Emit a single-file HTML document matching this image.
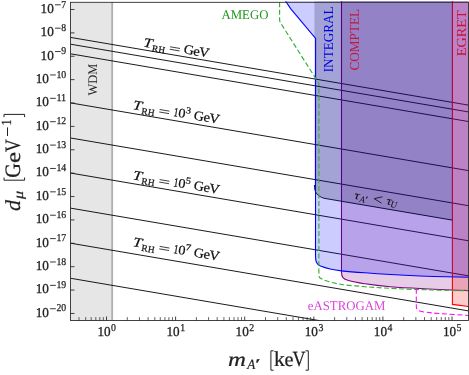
<!DOCTYPE html><html><head><meta charset="utf-8"><style>html,body{margin:0;padding:0;background:#fff}svg{display:block;will-change:transform}text{font-family:"Liberation Serif",serif;text-rendering:geometricPrecision}</style></head><body>
<svg width="469" height="375" viewBox="0 0 469 375">
<rect width="469" height="375" fill="#fff"/>
<defs><clipPath id="c"><rect x="70.5" y="1.2" width="398.5" height="319.3"/></clipPath></defs>
<g clip-path="url(#c)">
<rect x="70.5" y="2.3" width="42.5" height="318.2" fill="#808080" fill-opacity="0.2"/>
<line x1="112.2" y1="2.3" x2="112.2" y2="320.5" stroke="#808080" stroke-opacity="0.55" stroke-width="1.8"/>
<line x1="70.5" y1="37.40" x2="468.5" y2="105.14" stroke="#000" stroke-width="0.9"/>
<line x1="70.5" y1="44.20" x2="468.5" y2="111.94" stroke="#000" stroke-width="0.9"/>
<line x1="70.5" y1="53.80" x2="468.5" y2="121.54" stroke="#000" stroke-width="0.9"/>
<line x1="70.5" y1="102.90" x2="468.5" y2="170.64" stroke="#000" stroke-width="0.9"/>
<line x1="70.5" y1="137.97" x2="468.5" y2="205.71" stroke="#000" stroke-width="0.9"/>
<line x1="70.5" y1="173.04" x2="468.5" y2="240.78" stroke="#000" stroke-width="0.9"/>
<line x1="70.5" y1="208.11" x2="468.5" y2="275.85" stroke="#000" stroke-width="0.9"/>
<line x1="70.5" y1="243.18" x2="468.5" y2="310.92" stroke="#000" stroke-width="0.9"/>
<line x1="70.5" y1="278.25" x2="468.5" y2="345.99" stroke="#000" stroke-width="0.9"/>
<path d="M341.5 1.0 L341.5 272.3 C341.5 277 343 278.8 348.5 280.5 C354 282.1 358 282.7 365 283.8 C375 285.2 382 286 390 286.8 C400 287.6 410 288.1 420 288.5 C440 289.5 455 290.1 468.5 290.5 L468.5 1.0 Z" fill="#800080" fill-opacity="0.2"/>
<path d="M341.5 1.0 L341.5 272.3 C341.5 277 343 278.8 348.5 280.5 C354 282.1 358 282.7 365 283.8 C375 285.2 382 286 390 286.8 C400 287.6 410 288.1 420 288.5 C440 289.5 455 290.1 468.5 290.5" fill="none" stroke="#800080" stroke-width="1.1"/>
<path d="M452.4 1.0 L452.4 304.4 L468.5 306.5 L468.5 1.0 Z" fill="#f00" fill-opacity="0.2"/>
<path d="M452.4 1.0 L452.4 304.4 L468.5 306.5" fill="none" stroke="#f00" stroke-width="1.1"/>
<path d="M314.4 1.0 L314.4 185 C314.4 192.5 317 196 324 198.28 L452.4 220.13 L452.4 1.0 Z" fill="#000" fill-opacity="0.2"/>
<path d="M314.4 185 C314.4 192.5 317 196 324 198.28 L452.4 220.13" fill="none" stroke="#000" stroke-width="0.9"/>
<path d="M285.5 1.0 L290.6 8.6 L315.6 38.4 L315.5 255.5 C315.5 261.5 316.3 264 320.4 266.1 C326 268.3 334 270.1 341.5 270.9 C350 271.8 356 272.2 365 272.8 C385 274.3 400 275.1 420 276.0 C440 276.7 455 277.1 468.5 277.3 L468.5 1.0 Z" fill="#00f" fill-opacity="0.2"/>
<path d="M285.5 1.0 L290.6 8.6 L315.6 38.4 L315.5 255.5 C315.5 261.5 316.3 264 320.4 266.1 C326 268.3 334 270.1 341.5 270.9 C350 271.8 356 272.2 365 272.8 C385 274.3 400 275.1 420 276.0 C440 276.7 455 277.1 468.5 277.3" fill="none" stroke="#00f" stroke-width="1.1"/>
<path d="M279.6 2.3 L279.6 19.5 Q279.6 21.6 280.8 23.3 L318.9 83.5 L318.9 274.5 C318.9 277.5 319.5 278 321 278.6 C324 280.1 327 281.1 330.6 282.2 C335 283.4 339 284 343.4 284.7 C350 285.6 358 286 365 286.7 C375 287.4 382 287.9 390 288.3 C400 288.9 410 289.3 420 289.6 C440 290.2 455 290.6 468.5 290.9" fill="none" stroke="#34b034" stroke-width="1.15" stroke-dasharray="5 2.5"/>
<path d="M416.3 288.8 L416.3 306.3 C416.3 309.6 418 310.8 423 311.8 C430 312.8 436 313.3 442 313.8 C450 314.3 460 314.9 468.5 315.4" fill="none" stroke="#f0f" stroke-width="1.05" stroke-dasharray="5 2.7"/>
</g>
<rect x="70.5" y="2.3" width="398.0" height="318.2" fill="none" stroke="#222" stroke-width="0.85"/>
<line x1="70.5" y1="313.44" x2="74.5" y2="313.44" stroke="#222" stroke-width="0.85"/>
<text x="35.70" y="316.74" font-size="13.5" textLength="13.2" lengthAdjust="spacingAndGlyphs" fill="#222" stroke="#222" stroke-width="0.3">10</text>
<line x1="50.10" y1="308.74" x2="55.80" y2="308.74" stroke="#222" stroke-width="0.9"/>
<text x="56.40" y="311.44" font-size="10.5" textLength="9.80" lengthAdjust="spacingAndGlyphs" fill="#222" stroke="#222" stroke-width="0.25">20</text>
<line x1="70.5" y1="290.06" x2="74.5" y2="290.06" stroke="#222" stroke-width="0.85"/>
<text x="35.70" y="293.36" font-size="13.5" textLength="13.2" lengthAdjust="spacingAndGlyphs" fill="#222" stroke="#222" stroke-width="0.3">10</text>
<line x1="50.10" y1="285.36" x2="55.80" y2="285.36" stroke="#222" stroke-width="0.9"/>
<text x="56.40" y="288.06" font-size="10.5" textLength="9.80" lengthAdjust="spacingAndGlyphs" fill="#222" stroke="#222" stroke-width="0.25">19</text>
<line x1="70.5" y1="266.68" x2="74.5" y2="266.68" stroke="#222" stroke-width="0.85"/>
<text x="35.70" y="269.98" font-size="13.5" textLength="13.2" lengthAdjust="spacingAndGlyphs" fill="#222" stroke="#222" stroke-width="0.3">10</text>
<line x1="50.10" y1="261.98" x2="55.80" y2="261.98" stroke="#222" stroke-width="0.9"/>
<text x="56.40" y="264.68" font-size="10.5" textLength="9.80" lengthAdjust="spacingAndGlyphs" fill="#222" stroke="#222" stroke-width="0.25">18</text>
<line x1="70.5" y1="243.30" x2="74.5" y2="243.30" stroke="#222" stroke-width="0.85"/>
<text x="35.70" y="246.60" font-size="13.5" textLength="13.2" lengthAdjust="spacingAndGlyphs" fill="#222" stroke="#222" stroke-width="0.3">10</text>
<line x1="50.10" y1="238.60" x2="55.80" y2="238.60" stroke="#222" stroke-width="0.9"/>
<text x="56.40" y="241.30" font-size="10.5" textLength="9.80" lengthAdjust="spacingAndGlyphs" fill="#222" stroke="#222" stroke-width="0.25">17</text>
<line x1="70.5" y1="219.92" x2="74.5" y2="219.92" stroke="#222" stroke-width="0.85"/>
<text x="35.70" y="223.22" font-size="13.5" textLength="13.2" lengthAdjust="spacingAndGlyphs" fill="#222" stroke="#222" stroke-width="0.3">10</text>
<line x1="50.10" y1="215.22" x2="55.80" y2="215.22" stroke="#222" stroke-width="0.9"/>
<text x="56.40" y="217.92" font-size="10.5" textLength="9.80" lengthAdjust="spacingAndGlyphs" fill="#222" stroke="#222" stroke-width="0.25">16</text>
<line x1="70.5" y1="196.54" x2="74.5" y2="196.54" stroke="#222" stroke-width="0.85"/>
<text x="35.70" y="199.84" font-size="13.5" textLength="13.2" lengthAdjust="spacingAndGlyphs" fill="#222" stroke="#222" stroke-width="0.3">10</text>
<line x1="50.10" y1="191.84" x2="55.80" y2="191.84" stroke="#222" stroke-width="0.9"/>
<text x="56.40" y="194.54" font-size="10.5" textLength="9.80" lengthAdjust="spacingAndGlyphs" fill="#222" stroke="#222" stroke-width="0.25">15</text>
<line x1="70.5" y1="173.16" x2="74.5" y2="173.16" stroke="#222" stroke-width="0.85"/>
<text x="35.70" y="176.46" font-size="13.5" textLength="13.2" lengthAdjust="spacingAndGlyphs" fill="#222" stroke="#222" stroke-width="0.3">10</text>
<line x1="50.10" y1="168.46" x2="55.80" y2="168.46" stroke="#222" stroke-width="0.9"/>
<text x="56.40" y="171.16" font-size="10.5" textLength="9.80" lengthAdjust="spacingAndGlyphs" fill="#222" stroke="#222" stroke-width="0.25">14</text>
<line x1="70.5" y1="149.78" x2="74.5" y2="149.78" stroke="#222" stroke-width="0.85"/>
<text x="35.70" y="153.08" font-size="13.5" textLength="13.2" lengthAdjust="spacingAndGlyphs" fill="#222" stroke="#222" stroke-width="0.3">10</text>
<line x1="50.10" y1="145.08" x2="55.80" y2="145.08" stroke="#222" stroke-width="0.9"/>
<text x="56.40" y="147.78" font-size="10.5" textLength="9.80" lengthAdjust="spacingAndGlyphs" fill="#222" stroke="#222" stroke-width="0.25">13</text>
<line x1="70.5" y1="126.40" x2="74.5" y2="126.40" stroke="#222" stroke-width="0.85"/>
<text x="35.70" y="129.70" font-size="13.5" textLength="13.2" lengthAdjust="spacingAndGlyphs" fill="#222" stroke="#222" stroke-width="0.3">10</text>
<line x1="50.10" y1="121.70" x2="55.80" y2="121.70" stroke="#222" stroke-width="0.9"/>
<text x="56.40" y="124.40" font-size="10.5" textLength="9.80" lengthAdjust="spacingAndGlyphs" fill="#222" stroke="#222" stroke-width="0.25">12</text>
<line x1="70.5" y1="103.02" x2="74.5" y2="103.02" stroke="#222" stroke-width="0.85"/>
<text x="35.70" y="106.32" font-size="13.5" textLength="13.2" lengthAdjust="spacingAndGlyphs" fill="#222" stroke="#222" stroke-width="0.3">10</text>
<line x1="50.10" y1="98.32" x2="55.80" y2="98.32" stroke="#222" stroke-width="0.9"/>
<text x="56.40" y="101.02" font-size="10.5" textLength="9.80" lengthAdjust="spacingAndGlyphs" fill="#222" stroke="#222" stroke-width="0.25">11</text>
<line x1="70.5" y1="79.64" x2="74.5" y2="79.64" stroke="#222" stroke-width="0.85"/>
<text x="35.70" y="82.94" font-size="13.5" textLength="13.2" lengthAdjust="spacingAndGlyphs" fill="#222" stroke="#222" stroke-width="0.3">10</text>
<line x1="50.10" y1="74.94" x2="55.80" y2="74.94" stroke="#222" stroke-width="0.9"/>
<text x="56.40" y="77.64" font-size="10.5" textLength="9.80" lengthAdjust="spacingAndGlyphs" fill="#222" stroke="#222" stroke-width="0.25">10</text>
<line x1="70.5" y1="56.26" x2="74.5" y2="56.26" stroke="#222" stroke-width="0.85"/>
<text x="40.60" y="59.56" font-size="13.5" textLength="13.2" lengthAdjust="spacingAndGlyphs" fill="#222" stroke="#222" stroke-width="0.3">10</text>
<line x1="55.00" y1="51.56" x2="60.70" y2="51.56" stroke="#222" stroke-width="0.9"/>
<text x="61.30" y="54.26" font-size="10.5" textLength="4.90" lengthAdjust="spacingAndGlyphs" fill="#222" stroke="#222" stroke-width="0.25">9</text>
<line x1="70.5" y1="32.88" x2="74.5" y2="32.88" stroke="#222" stroke-width="0.85"/>
<text x="40.60" y="36.18" font-size="13.5" textLength="13.2" lengthAdjust="spacingAndGlyphs" fill="#222" stroke="#222" stroke-width="0.3">10</text>
<line x1="55.00" y1="28.18" x2="60.70" y2="28.18" stroke="#222" stroke-width="0.9"/>
<text x="61.30" y="30.88" font-size="10.5" textLength="4.90" lengthAdjust="spacingAndGlyphs" fill="#222" stroke="#222" stroke-width="0.25">8</text>
<line x1="70.5" y1="9.50" x2="74.5" y2="9.50" stroke="#222" stroke-width="0.85"/>
<text x="40.60" y="12.80" font-size="13.5" textLength="13.2" lengthAdjust="spacingAndGlyphs" fill="#222" stroke="#222" stroke-width="0.3">10</text>
<line x1="55.00" y1="4.80" x2="60.70" y2="4.80" stroke="#222" stroke-width="0.9"/>
<text x="61.30" y="7.50" font-size="10.5" textLength="4.90" lengthAdjust="spacingAndGlyphs" fill="#222" stroke="#222" stroke-width="0.25">7</text>
<line x1="79.00" y1="320.5" x2="79.00" y2="317.1" stroke="#222" stroke-width="0.7"/>
<line x1="85.70" y1="320.5" x2="85.70" y2="317.1" stroke="#222" stroke-width="0.7"/>
<line x1="91.17" y1="320.5" x2="91.17" y2="317.1" stroke="#222" stroke-width="0.7"/>
<line x1="95.80" y1="320.5" x2="95.80" y2="317.1" stroke="#222" stroke-width="0.7"/>
<line x1="99.80" y1="320.5" x2="99.80" y2="317.1" stroke="#222" stroke-width="0.7"/>
<line x1="103.34" y1="320.5" x2="103.34" y2="317.1" stroke="#222" stroke-width="0.7"/>
<line x1="106.50" y1="320.5" x2="106.50" y2="316.5" stroke="#222" stroke-width="0.85"/>
<text x="97.40" y="335.8" font-size="13.5" textLength="13.2" lengthAdjust="spacingAndGlyphs" fill="#222" stroke="#222" stroke-width="0.3">10</text>
<text x="111.10" y="331.2" font-size="10.5" textLength="4.9" lengthAdjust="spacingAndGlyphs" fill="#222" stroke="#222" stroke-width="0.25">0</text>
<line x1="127.30" y1="320.5" x2="127.30" y2="317.1" stroke="#222" stroke-width="0.7"/>
<line x1="139.47" y1="320.5" x2="139.47" y2="317.1" stroke="#222" stroke-width="0.7"/>
<line x1="148.10" y1="320.5" x2="148.10" y2="317.1" stroke="#222" stroke-width="0.7"/>
<line x1="154.80" y1="320.5" x2="154.80" y2="317.1" stroke="#222" stroke-width="0.7"/>
<line x1="160.27" y1="320.5" x2="160.27" y2="317.1" stroke="#222" stroke-width="0.7"/>
<line x1="164.90" y1="320.5" x2="164.90" y2="317.1" stroke="#222" stroke-width="0.7"/>
<line x1="168.90" y1="320.5" x2="168.90" y2="317.1" stroke="#222" stroke-width="0.7"/>
<line x1="172.44" y1="320.5" x2="172.44" y2="317.1" stroke="#222" stroke-width="0.7"/>
<line x1="175.60" y1="320.5" x2="175.60" y2="316.5" stroke="#222" stroke-width="0.85"/>
<text x="166.50" y="335.8" font-size="13.5" textLength="13.2" lengthAdjust="spacingAndGlyphs" fill="#222" stroke="#222" stroke-width="0.3">10</text>
<text x="180.20" y="331.2" font-size="10.5" textLength="4.9" lengthAdjust="spacingAndGlyphs" fill="#222" stroke="#222" stroke-width="0.25">1</text>
<line x1="196.40" y1="320.5" x2="196.40" y2="317.1" stroke="#222" stroke-width="0.7"/>
<line x1="208.57" y1="320.5" x2="208.57" y2="317.1" stroke="#222" stroke-width="0.7"/>
<line x1="217.20" y1="320.5" x2="217.20" y2="317.1" stroke="#222" stroke-width="0.7"/>
<line x1="223.90" y1="320.5" x2="223.90" y2="317.1" stroke="#222" stroke-width="0.7"/>
<line x1="229.37" y1="320.5" x2="229.37" y2="317.1" stroke="#222" stroke-width="0.7"/>
<line x1="234.00" y1="320.5" x2="234.00" y2="317.1" stroke="#222" stroke-width="0.7"/>
<line x1="238.00" y1="320.5" x2="238.00" y2="317.1" stroke="#222" stroke-width="0.7"/>
<line x1="241.54" y1="320.5" x2="241.54" y2="317.1" stroke="#222" stroke-width="0.7"/>
<line x1="244.70" y1="320.5" x2="244.70" y2="316.5" stroke="#222" stroke-width="0.85"/>
<text x="235.60" y="335.8" font-size="13.5" textLength="13.2" lengthAdjust="spacingAndGlyphs" fill="#222" stroke="#222" stroke-width="0.3">10</text>
<text x="249.30" y="331.2" font-size="10.5" textLength="4.9" lengthAdjust="spacingAndGlyphs" fill="#222" stroke="#222" stroke-width="0.25">2</text>
<line x1="265.50" y1="320.5" x2="265.50" y2="317.1" stroke="#222" stroke-width="0.7"/>
<line x1="277.67" y1="320.5" x2="277.67" y2="317.1" stroke="#222" stroke-width="0.7"/>
<line x1="286.30" y1="320.5" x2="286.30" y2="317.1" stroke="#222" stroke-width="0.7"/>
<line x1="293.00" y1="320.5" x2="293.00" y2="317.1" stroke="#222" stroke-width="0.7"/>
<line x1="298.47" y1="320.5" x2="298.47" y2="317.1" stroke="#222" stroke-width="0.7"/>
<line x1="303.10" y1="320.5" x2="303.10" y2="317.1" stroke="#222" stroke-width="0.7"/>
<line x1="307.10" y1="320.5" x2="307.10" y2="317.1" stroke="#222" stroke-width="0.7"/>
<line x1="310.64" y1="320.5" x2="310.64" y2="317.1" stroke="#222" stroke-width="0.7"/>
<line x1="313.80" y1="320.5" x2="313.80" y2="316.5" stroke="#222" stroke-width="0.85"/>
<text x="304.70" y="335.8" font-size="13.5" textLength="13.2" lengthAdjust="spacingAndGlyphs" fill="#222" stroke="#222" stroke-width="0.3">10</text>
<text x="318.40" y="331.2" font-size="10.5" textLength="4.9" lengthAdjust="spacingAndGlyphs" fill="#222" stroke="#222" stroke-width="0.25">3</text>
<line x1="334.60" y1="320.5" x2="334.60" y2="317.1" stroke="#222" stroke-width="0.7"/>
<line x1="346.77" y1="320.5" x2="346.77" y2="317.1" stroke="#222" stroke-width="0.7"/>
<line x1="355.40" y1="320.5" x2="355.40" y2="317.1" stroke="#222" stroke-width="0.7"/>
<line x1="362.10" y1="320.5" x2="362.10" y2="317.1" stroke="#222" stroke-width="0.7"/>
<line x1="367.57" y1="320.5" x2="367.57" y2="317.1" stroke="#222" stroke-width="0.7"/>
<line x1="372.20" y1="320.5" x2="372.20" y2="317.1" stroke="#222" stroke-width="0.7"/>
<line x1="376.20" y1="320.5" x2="376.20" y2="317.1" stroke="#222" stroke-width="0.7"/>
<line x1="379.74" y1="320.5" x2="379.74" y2="317.1" stroke="#222" stroke-width="0.7"/>
<line x1="382.90" y1="320.5" x2="382.90" y2="316.5" stroke="#222" stroke-width="0.85"/>
<text x="373.80" y="335.8" font-size="13.5" textLength="13.2" lengthAdjust="spacingAndGlyphs" fill="#222" stroke="#222" stroke-width="0.3">10</text>
<text x="387.50" y="331.2" font-size="10.5" textLength="4.9" lengthAdjust="spacingAndGlyphs" fill="#222" stroke="#222" stroke-width="0.25">4</text>
<line x1="403.70" y1="320.5" x2="403.70" y2="317.1" stroke="#222" stroke-width="0.7"/>
<line x1="415.87" y1="320.5" x2="415.87" y2="317.1" stroke="#222" stroke-width="0.7"/>
<line x1="424.50" y1="320.5" x2="424.50" y2="317.1" stroke="#222" stroke-width="0.7"/>
<line x1="431.20" y1="320.5" x2="431.20" y2="317.1" stroke="#222" stroke-width="0.7"/>
<line x1="436.67" y1="320.5" x2="436.67" y2="317.1" stroke="#222" stroke-width="0.7"/>
<line x1="441.30" y1="320.5" x2="441.30" y2="317.1" stroke="#222" stroke-width="0.7"/>
<line x1="445.30" y1="320.5" x2="445.30" y2="317.1" stroke="#222" stroke-width="0.7"/>
<line x1="448.84" y1="320.5" x2="448.84" y2="317.1" stroke="#222" stroke-width="0.7"/>
<line x1="452.00" y1="320.5" x2="452.00" y2="316.5" stroke="#222" stroke-width="0.85"/>
<text x="442.90" y="335.8" font-size="13.5" textLength="13.2" lengthAdjust="spacingAndGlyphs" fill="#222" stroke="#222" stroke-width="0.3">10</text>
<text x="456.60" y="331.2" font-size="10.5" textLength="4.9" lengthAdjust="spacingAndGlyphs" fill="#222" stroke="#222" stroke-width="0.25">5</text>
<text transform="translate(228.00,366.00) scale(1.230,1)" font-size="20.2" font-style="italic" fill="#222" stroke="#222" stroke-width="0.22">m</text><text transform="translate(247.22,368.80) scale(0.926,1)" font-size="14.2" font-style="italic" fill="#222" stroke="#222" stroke-width="0.22">A</text><text transform="translate(255.37,368.80) scale(1.665,1)" font-size="15" fill="#222" stroke="#222" stroke-width="0.22">′</text><path d="M273.6 350.8 L270.9 350.8 L270.9 370.2 L273.6 370.2" fill="none" stroke="#222" stroke-width="1.0"/><text transform="translate(273.99,366.00) scale(1.010,1)" font-size="21.4" fill="#222" stroke="#222" stroke-width="0.22">k</text><text transform="translate(284.51,366.00) scale(0.993,1)" font-size="20.4" fill="#222" stroke="#222" stroke-width="0.22">e</text><text transform="translate(292.60,366.00) scale(0.834,1)" font-size="21.6" fill="#222" stroke="#222" stroke-width="0.22">V</text><path d="M305.6 350.8 L308.3 350.8 L308.3 370.2 L305.6 370.2" fill="none" stroke="#222" stroke-width="1.0"/>
<g transform="translate(20,210.5) rotate(-90)"><text transform="translate(-0.47,0.00) scale(1.029,1)" font-size="21.4" font-style="italic" fill="#222" stroke="#222" stroke-width="0.22">d</text><text transform="translate(11.52,3.00) scale(1.174,1)" font-size="13.6" font-style="italic" fill="#222" stroke="#222" stroke-width="0.22">μ</text><path d="M33.0 -16.0 L30.30000000000001 -16.0 L30.30000000000001 4.6 L33.0 4.6" fill="none" stroke="#222" stroke-width="1.0"/><text transform="translate(32.87,0.00) scale(0.916,1)" font-size="22.0" fill="#222" stroke="#222" stroke-width="0.22">G</text><text transform="translate(47.53,0.00) scale(1.207,1)" font-size="20.6" fill="#222" stroke="#222" stroke-width="0.22">e</text><text transform="translate(58.50,0.00) scale(0.806,1)" font-size="22.0" fill="#222" stroke="#222" stroke-width="0.22">V</text><line x1="74.5" y1="-12.5" x2="83.1" y2="-12.5" stroke="#222" stroke-width="1"/><text transform="translate(85.05,-9.20) scale(0.852,1)" font-size="14.0" fill="#222" stroke="#222" stroke-width="0.22">1</text><path d="M93.4 -16.0 L96.1 -16.0 L96.1 4.6 L93.4 4.6" fill="none" stroke="#222" stroke-width="1.0"/></g>
<text x="221.5" y="19.3" font-size="13.2" textLength="46.9" lengthAdjust="spacingAndGlyphs" fill="#1e961e">AMEGO</text>
<text x="307.8" y="310" font-size="13.2" textLength="77.6" lengthAdjust="spacingAndGlyphs" fill="#dc46dc">eASTROGAM</text>
<g transform="translate(333.3,72.3) rotate(-90)"><text font-size="13.8" textLength="66" lengthAdjust="spacingAndGlyphs" fill="#0000e6">INTEGRAL</text></g>
<g transform="translate(358.5,70.6) rotate(-90)"><text font-size="13.8" textLength="61.8" lengthAdjust="spacingAndGlyphs" fill="#c01845">COMPTEL</text></g>
<g transform="translate(466,56.2) rotate(-90)"><text font-size="13.8" textLength="46" lengthAdjust="spacingAndGlyphs" fill="#c8143c">EGRET</text></g>
<g transform="translate(96.7,95.4) rotate(-90)"><text font-size="13.2" textLength="31.6" lengthAdjust="spacingAndGlyphs" fill="#222">WDM</text></g>
<g transform="translate(144.0,46.6) rotate(9.66)"><text transform="translate(-1.05,0.00) scale(1.203,1)" font-size="13.3" font-style="italic" fill="#111" stroke="#111" stroke-width="0.22">T</text><text transform="translate(8.23,3.30) scale(1.002,1)" font-size="9.4" fill="#111" stroke="#111" stroke-width="0.22">R</text><text transform="translate(14.64,3.30) scale(0.977,1)" font-size="9.4" fill="#111" stroke="#111" stroke-width="0.22">H</text><line x1="25.8" y1="-1.7" x2="35.8" y2="-1.7" stroke="#111" stroke-width="0.75"/><line x1="25.8" y1="-4.2" x2="35.8" y2="-4.2" stroke="#111" stroke-width="0.75"/><text transform="translate(39.73,0.00) scale(1.045,1)" font-size="13.4" fill="#111" stroke="#111" stroke-width="0.22">G</text><text transform="translate(49.43,0.00) scale(1.105,1)" font-size="13.2" fill="#111" stroke="#111" stroke-width="0.22">e</text><text transform="translate(55.04,0.00) scale(1.088,1)" font-size="13.4" fill="#111" stroke="#111" stroke-width="0.22">V</text></g>
<g transform="translate(133.5,109.3) rotate(9.66)"><text transform="translate(-1.05,0.00) scale(1.203,1)" font-size="13.3" font-style="italic" fill="#111" stroke="#111" stroke-width="0.22">T</text><text transform="translate(8.23,3.30) scale(1.002,1)" font-size="9.4" fill="#111" stroke="#111" stroke-width="0.22">R</text><text transform="translate(14.64,3.30) scale(0.977,1)" font-size="9.4" fill="#111" stroke="#111" stroke-width="0.22">H</text><line x1="25.8" y1="-1.7" x2="35.8" y2="-1.7" stroke="#111" stroke-width="0.75"/><line x1="25.8" y1="-4.2" x2="35.8" y2="-4.2" stroke="#111" stroke-width="0.75"/><text transform="translate(40.15,0.00) scale(0.743,1)" font-size="13.0" fill="#111" stroke="#111" stroke-width="0.22">1</text><text transform="translate(44.76,0.00) scale(1.089,1)" font-size="13.0" fill="#111" stroke="#111" stroke-width="0.22">0</text><text transform="translate(51.80,-5.00) scale(1.107,1)" font-size="9.4" fill="#111" stroke="#111" stroke-width="0.22">3</text><text transform="translate(60.73,0.00) scale(1.045,1)" font-size="13.4" fill="#111" stroke="#111" stroke-width="0.22">G</text><text transform="translate(70.43,0.00) scale(1.105,1)" font-size="13.2" fill="#111" stroke="#111" stroke-width="0.22">e</text><text transform="translate(76.04,0.00) scale(1.088,1)" font-size="13.4" fill="#111" stroke="#111" stroke-width="0.22">V</text></g>
<g transform="translate(133.5,179.4) rotate(9.66)"><text transform="translate(-1.05,0.00) scale(1.203,1)" font-size="13.3" font-style="italic" fill="#111" stroke="#111" stroke-width="0.22">T</text><text transform="translate(8.23,3.30) scale(1.002,1)" font-size="9.4" fill="#111" stroke="#111" stroke-width="0.22">R</text><text transform="translate(14.64,3.30) scale(0.977,1)" font-size="9.4" fill="#111" stroke="#111" stroke-width="0.22">H</text><line x1="25.8" y1="-1.7" x2="35.8" y2="-1.7" stroke="#111" stroke-width="0.75"/><line x1="25.8" y1="-4.2" x2="35.8" y2="-4.2" stroke="#111" stroke-width="0.75"/><text transform="translate(40.15,0.00) scale(0.743,1)" font-size="13.0" fill="#111" stroke="#111" stroke-width="0.22">1</text><text transform="translate(44.76,0.00) scale(1.089,1)" font-size="13.0" fill="#111" stroke="#111" stroke-width="0.22">0</text><text transform="translate(51.68,-5.00) scale(1.136,1)" font-size="9.4" fill="#111" stroke="#111" stroke-width="0.22">5</text><text transform="translate(60.73,0.00) scale(1.045,1)" font-size="13.4" fill="#111" stroke="#111" stroke-width="0.22">G</text><text transform="translate(70.43,0.00) scale(1.105,1)" font-size="13.2" fill="#111" stroke="#111" stroke-width="0.22">e</text><text transform="translate(76.04,0.00) scale(1.088,1)" font-size="13.4" fill="#111" stroke="#111" stroke-width="0.22">V</text></g>
<g transform="translate(133.5,246.2) rotate(9.66)"><text transform="translate(-1.05,0.00) scale(1.203,1)" font-size="13.3" font-style="italic" fill="#111" stroke="#111" stroke-width="0.22">T</text><text transform="translate(8.23,3.30) scale(1.002,1)" font-size="9.4" fill="#111" stroke="#111" stroke-width="0.22">R</text><text transform="translate(14.64,3.30) scale(0.977,1)" font-size="9.4" fill="#111" stroke="#111" stroke-width="0.22">H</text><line x1="25.8" y1="-1.7" x2="35.8" y2="-1.7" stroke="#111" stroke-width="0.75"/><line x1="25.8" y1="-4.2" x2="35.8" y2="-4.2" stroke="#111" stroke-width="0.75"/><text transform="translate(40.15,0.00) scale(0.743,1)" font-size="13.0" fill="#111" stroke="#111" stroke-width="0.22">1</text><text transform="translate(44.76,0.00) scale(1.089,1)" font-size="13.0" fill="#111" stroke="#111" stroke-width="0.22">0</text><text transform="translate(51.60,-5.00) scale(1.129,1)" font-size="9.4" fill="#111" stroke="#111" stroke-width="0.22">7</text><text transform="translate(60.73,0.00) scale(1.045,1)" font-size="13.4" fill="#111" stroke="#111" stroke-width="0.22">G</text><text transform="translate(70.43,0.00) scale(1.105,1)" font-size="13.2" fill="#111" stroke="#111" stroke-width="0.22">e</text><text transform="translate(76.04,0.00) scale(1.088,1)" font-size="13.4" fill="#111" stroke="#111" stroke-width="0.22">V</text></g>
<g transform="translate(354.2,198.9) rotate(9.66)"><text transform="translate(-0.31,0.00) scale(1.224,1)" font-size="11.6" font-style="italic" fill="#111" stroke="#111" stroke-width="0.05">τ</text><text transform="translate(5.47,1.90) scale(0.985,1)" font-size="8.8" font-style="italic" fill="#111" stroke="#111" stroke-width="0.05">A</text><text transform="translate(10.86,1.90) scale(1.577,1)" font-size="9.5" fill="#111" stroke="#111" stroke-width="0.05">′</text><path d="M27.6 -6.8 L19.6 -3.6 L27.6 -0.4" fill="none" stroke="#111" stroke-width="0.8"/><text transform="translate(32.18,0.00) scale(1.248,1)" font-size="11.6" font-style="italic" fill="#111" stroke="#111" stroke-width="0.05">τ</text><text transform="translate(36.57,1.90) scale(1.029,1)" font-size="8.8" font-style="italic" fill="#111" stroke="#111" stroke-width="0.05">U</text></g>
</svg></body></html>
